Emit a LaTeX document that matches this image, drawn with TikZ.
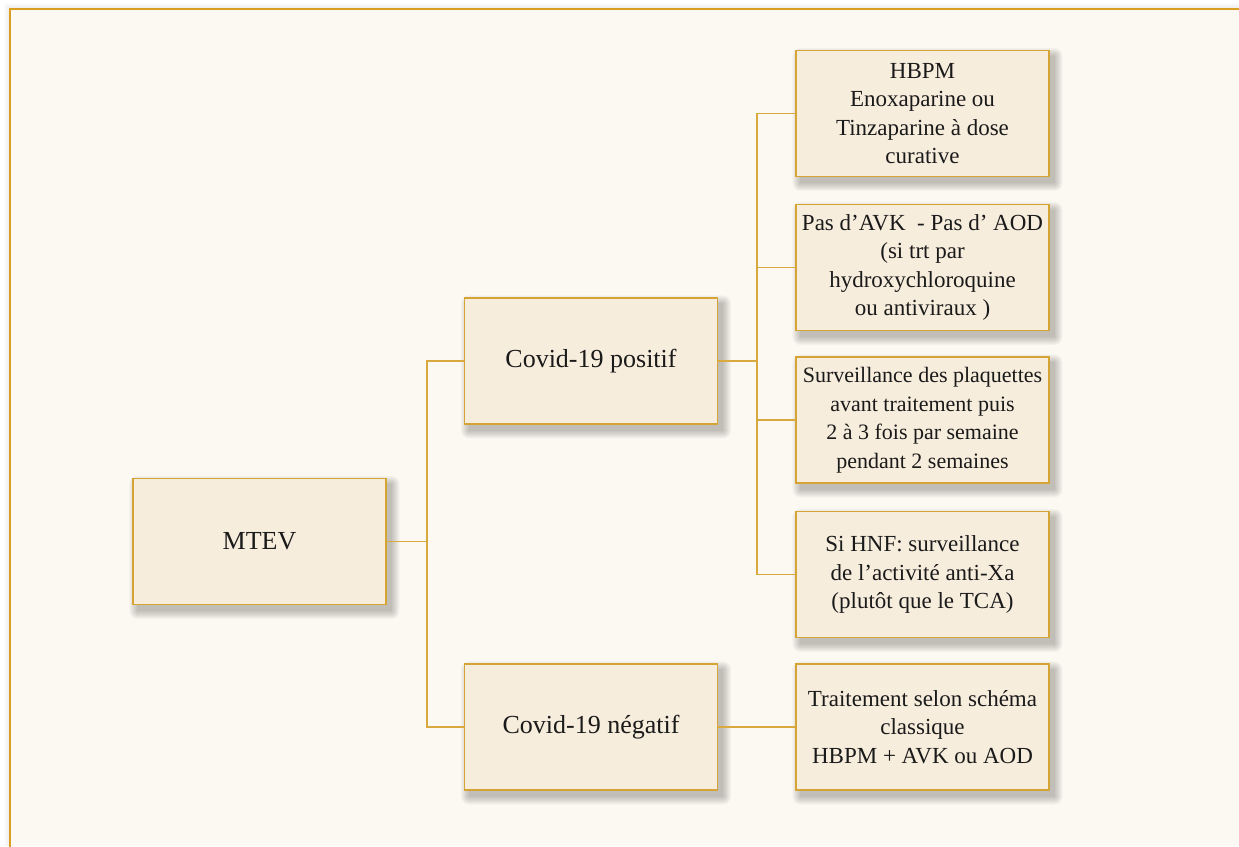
\documentclass[tikz,border=0pt]{standalone}
\usepackage{fontspec}
\setmainfont{Liberation Serif}

\definecolor{pagebg}{HTML}{FCF9F2}
\definecolor{framec}{HTML}{DA9E22}
\definecolor{boxfill}{HTML}{F7EDDD}
\definecolor{boxline}{HTML}{D5A434}
\definecolor{linkc}{HTML}{D8A93E}
\definecolor{ink}{HTML}{1A1A1A}

\pgfdeclarelayer{paper}
\pgfdeclarelayer{shade}
\pgfsetlayers{paper,shade,main}

\begin{document}
\begin{tikzpicture}[x=1pt, y=-1pt,
  basebox/.style={draw=boxline, line width=1.2pt, fill=boxfill,
    minimum width=253pt, minimum height=126pt, align=center,
    inner sep=2pt, text=ink},
  mainbox/.style={basebox, font=\fontsize{26}{30}\selectfont},
  leafbox/.style={basebox, font=\fontsize{23}{28.5}\selectfont},
  link/.style={draw=linkc, line width=1.2pt},
  softshade/.style={fill=black, opacity=0.027}]

  \useasboundingbox (0,0) rectangle (1239,846);

  % page and outer frame
  \begin{pgfonlayer}{paper}
    \fill[white] (0,0) rectangle (1239,846);
    \foreach \r in {1,...,6}
      \fill[black, opacity=0.012] (10-\r,9-\r) rectangle (1239,846);
    \fill[pagebg] (10,9) rectangle (1239,846);
    \draw[framec, line width=2.2pt] (10,850) -- (10,9) -- (1245,9);
  \end{pgfonlayer}

  % boxes
  \node[mainbox] (mtev) at (259.5,541.5) {MTEV};
  \node[mainbox] (pos)  at (591,361)     {Covid-19 positif};
  \node[mainbox] (neg)  at (591,727)     {Covid-19 négatif};

  \node[leafbox] (r1) at (922.5,113.5) {HBPM\\Enoxaparine ou\\Tinzaparine à dose\\curative};
  \node[leafbox] (r2) at (922.5,267.5) {Pas d’AVK\ \ - Pas d’ AOD\\(si trt par\\hydroxychloroquine\\ou antiviraux )};
  \node[leafbox, font=\fontsize{22}{28.5}\selectfont] (r3) at (922.5,420) {Surveillance des plaquettes\\avant traitement puis\\2 à 3 fois par semaine\\pendant 2 semaines};
  \node[leafbox] (r4) at (922.5,574.5) {Si HNF: surveillance\\de l’activité anti-Xa\\(plutôt que le TCA)};
  \node[leafbox] (r5) at (922.5,727) {Traitement selon schéma\\classique\\HBPM + AVK ou AOD};

  % soft drop shadows under the boxes
  \begin{pgfonlayer}{shade}
    \foreach \n in {mtev,pos,neg,r1,r2,r3,r4,r5}
      \foreach \r in {0,...,8}
        \fill[softshade, rounded corners=\r pt]
          ([shift={(5-\r,6-\r)}]\n.north west) rectangle
          ([shift={(5+\r,6+\r)}]\n.south east);
  \end{pgfonlayer}

  % junctions
  \coordinate (j1) at (427,541.5);
  \coordinate (j2) at (757,361);

  % connectors
  \begin{pgfonlayer}{shade}
    \draw[link] (mtev.east) -- (j1);
    \draw[link] (pos.west) -| (j1) |- (neg.west);
    \draw[link] (pos.east) -- (j2);
    \draw[link] (r1.west) -| (j2) |- (r4.west);
    \draw[link] (r2.west) -| (j2);
    \draw[link] (r3.west) -| (j2);
    \draw[link] (neg.east) -- (r5.west);
  \end{pgfonlayer}
\end{tikzpicture}
\end{document}
